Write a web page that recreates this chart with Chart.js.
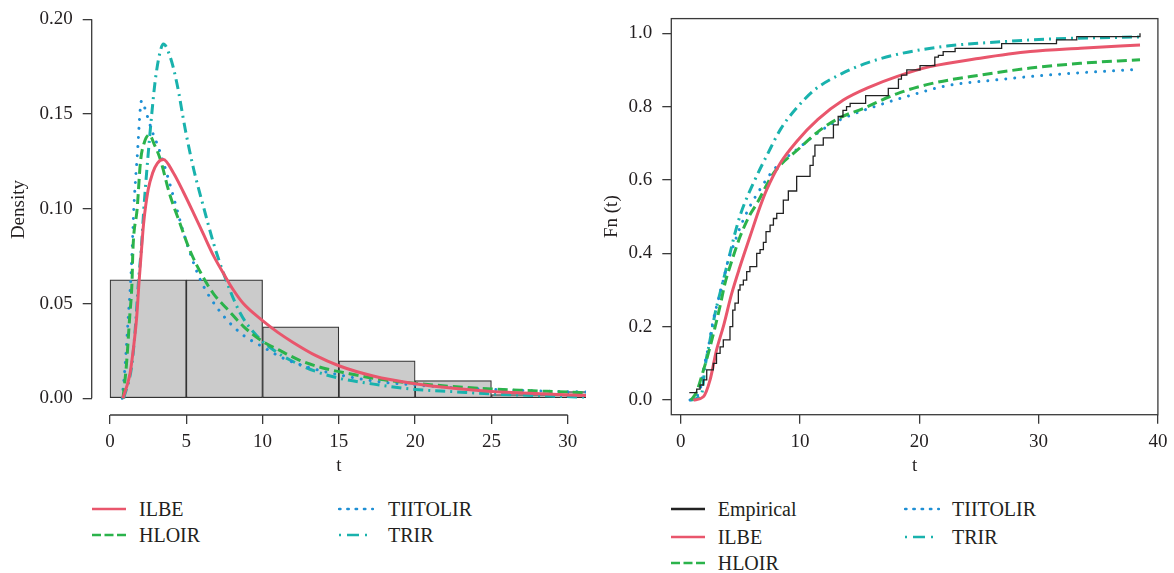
<!DOCTYPE html>
<html>
<head>
<meta charset="utf-8">
<script src="https://cdn.jsdelivr.net/npm/chart.js@4.4.1/dist/chart.umd.min.js"></script>
<style>
body { margin: 0; background: #fff; width: 1174px; height: 573px; overflow: hidden; position: relative;
       font-family: "Liberation Serif"; color: #231f20; }
canvas { position: absolute; top: 0; }
#c1 { left: 0; }
#c2 { left: 600px; }
.lg { position: absolute; font-family: "Liberation Serif"; font-size: 20px; line-height: 24px; height: 24px; white-space: nowrap; }
.lg svg { position: absolute; top: 0; }
</style>
</head>
<body>
<canvas id="c1" width="600" height="482"></canvas>
<canvas id="c2" width="574" height="482"></canvas>
<div id="legends"></div>
<script>
// ---- values ----
var binEdges = [0, 5, 10, 15, 20, 25, 30, 35, 40];
var binDensity = [0.0625, 0.0625, 0.0377, 0.0198, 0.0093, 0.002, 0.0035, 0.002];

// densities (left panel)
var pdfT_ILBE = [0.85, 1.31, 1.53, 1.75, 1.9, 2.06, 2.2, 2.5, 2.8, 3.1, 3.5, 4.15, 4.8, 5.46, 6.1, 6.8, 7.5, 8.1, 8.74, 10, 11, 12, 13.5, 15, 17.25, 20, 22.5, 25, 28.2, 31.2];
var pdfILBE   = [0, 0.013, 0.026, 0.043, 0.061, 0.078, 0.092, 0.110, 0.119, 0.124, 0.126, 0.119, 0.109, 0.098, 0.087, 0.075, 0.065, 0.057, 0.050, 0.041, 0.0348, 0.0295, 0.0225, 0.0172, 0.0118, 0.0077, 0.0053, 0.0036, 0.0024, 0.0015];

var pdfT_HLOIR = [0.85, 1.07, 1.29, 1.44, 1.5, 1.78, 2.0, 2.25, 2.58, 2.9, 3.3, 3.9, 4.6, 5.24, 6.1, 6.8, 7.64, 8.74, 10, 11.1, 12.4, 13.95, 15.7, 17.7, 20, 22.7, 25, 27.7, 31.2];
var pdfHLOIR   = [0, 0.017, 0.043, 0.061, 0.078, 0.100, 0.125, 0.135, 0.139, 0.134, 0.126, 0.108, 0.092, 0.078, 0.064, 0.055, 0.0475, 0.038, 0.030, 0.0254, 0.0202, 0.0160, 0.0130, 0.0100, 0.0079, 0.0061, 0.0049, 0.0040, 0.0029];

var pdfT_TIITOLIR = [0.8, 0.99, 1.2, 1.35, 1.45, 1.56, 1.78, 2.07, 2.4, 2.8, 3.1, 3.52, 4.17, 4.72, 5.15, 5.92, 7.0, 8.53, 10, 11.4, 12.9, 15.07, 17.7, 20, 22.7, 25, 27.7, 31.2];
var pdfTIITOLIR   = [0, 0.017, 0.043, 0.061, 0.078, 0.100, 0.127, 0.157, 0.150, 0.140, 0.134, 0.124, 0.106, 0.090, 0.079, 0.0626, 0.0480, 0.0346, 0.0272, 0.0210, 0.0166, 0.0123, 0.0087, 0.0070, 0.0056, 0.0047, 0.0040, 0.0033];

var pdfT_TRIR = [0.9, 1.42, 1.64, 1.86, 2.06, 2.2, 2.43, 2.76, 2.97, 3.26, 3.5, 3.95, 4.39, 4.93, 5.48, 6.13, 6.78, 7.44, 8.53, 9.62, 10.9, 11.8, 13.55, 15.07, 17.7, 20, 22.5, 25, 28.2, 31.2];
var pdfTRIR   = [0, 0.017, 0.035, 0.061, 0.080, 0.098, 0.122, 0.152, 0.168, 0.182, 0.187, 0.180, 0.166, 0.142, 0.121, 0.101, 0.082, 0.066, 0.045, 0.033, 0.0245, 0.0202, 0.0140, 0.0105, 0.0070, 0.0047, 0.0035, 0.0023, 0.0014, 0.0006];

// empirical cdf jumps (right panel)
var ecdfT = [0.72, 1.34, 1.62, 1.9, 2.18, 2.73, 3.0, 3.3, 3.57, 4.13, 4.36, 4.55, 4.83, 4.97, 5.25, 5.53, 5.8, 6.37, 6.65, 6.93, 7.15, 7.49, 7.77, 8.05, 8.6, 9.02, 9.72, 10.84, 11.1, 11.25, 11.95, 12.8, 13.2, 13.6, 13.9, 14.2, 15.5, 17.4, 18.25, 18.5, 18.95, 20.06, 21.3, 21.6, 22.0, 23.0, 26.9, 31.5, 33.2, 38.5];
var ecdfF = [0.02, 0.03, 0.041, 0.055, 0.082, 0.1, 0.127, 0.145, 0.164, 0.2, 0.245, 0.264, 0.3, 0.314, 0.327, 0.35, 0.364, 0.4, 0.41, 0.43, 0.459, 0.477, 0.495, 0.509, 0.545, 0.57, 0.61, 0.64, 0.665, 0.695, 0.715, 0.75, 0.773, 0.79, 0.8, 0.809, 0.83, 0.85, 0.875, 0.886, 0.9, 0.912, 0.935, 0.94, 0.95, 0.959, 0.972, 0.982, 0.991, 1.0];

// fitted cdfs (right panel)
var cdfT_ILBE = [1.06, 1.9, 2.46, 3.0, 3.57, 4.27, 4.97, 5.8, 6.65, 7.2, 8.33, 9.72, 11.5, 13.63, 15.87, 18.1, 20.9, 25.1, 29.3, 33.5, 38.5];
var cdfILBE   = [0, 0.009, 0.055, 0.136, 0.2, 0.29, 0.364, 0.445, 0.527, 0.573, 0.645, 0.705, 0.765, 0.818, 0.854, 0.882, 0.909, 0.932, 0.95, 0.959, 0.968];

var cdfT_HLOIR = [0.85, 1.3, 1.8, 2.46, 3.29, 3.71, 4.13, 4.97, 5.8, 6.37, 7.77, 10, 11.68, 13.35, 15.3, 18.1, 20.9, 25.1, 29.3, 33.5, 38.5];
var cdfHLOIR   = [0, 0.02, 0.07, 0.145, 0.255, 0.318, 0.364, 0.445, 0.505, 0.535, 0.618, 0.688, 0.736, 0.77, 0.795, 0.835, 0.862, 0.886, 0.905, 0.918, 0.928];

var cdfT_TIITOLIR = [0.78, 1.62, 1.9, 2.32, 2.73, 3.15, 3.57, 3.99, 4.41, 4.97, 5.67, 6.37, 7.77, 10, 12.24, 13.9, 16.7, 19.5, 22.3, 26.5, 30.7, 38.5];
var cdfTIITOLIR   = [0, 0.027, 0.082, 0.145, 0.218, 0.273, 0.327, 0.382, 0.42, 0.47, 0.52, 0.56, 0.627, 0.69, 0.745, 0.772, 0.805, 0.833, 0.857, 0.873, 0.886, 0.902];

var cdfT_TRIR = [0.8, 1.76, 2.04, 2.46, 2.88, 3.29, 3.71, 4.13, 4.55, 5.05, 6.2, 7.3, 8.4, 9.55, 11.2, 13.5, 15.7, 18.5, 22.3, 26.5, 30.7, 38.5];
var cdfTRIR   = [0, 0.018, 0.091, 0.164, 0.236, 0.291, 0.345, 0.4, 0.455, 0.51, 0.599, 0.672, 0.74, 0.79, 0.845, 0.89, 0.92, 0.945, 0.965, 0.976, 0.984, 0.99];

var leftXTicks = [0, 5, 10, 15, 20, 25, 30];
var leftYTicks = [0, 0.05, 0.10, 0.15, 0.20];
var rightXTicks = [0, 10, 20, 30, 40];
var rightYTicks = [0, 0.2, 0.4, 0.6, 0.8, 1.0];

var names = ['ILBE', 'HLOIR', 'TIITOLIR', 'TRIR'];
// ---------------------------------------

var FONT = '"Liberation Serif"';
var INK = '#231f20';
var AX = '#3a3a3a';
Chart.defaults.font.family = FONT;

var style = {
  ILBE:     { color: '#e9566c', dash: [],            cap: 'butt',  lg: '' },
  HLOIR:    { color: '#2bb34b', dash: [10, 5],       cap: 'butt',  lg: '9 3.5' },
  TIITOLIR: { color: '#1e8fd4', dash: [0.01, 9],     cap: 'round', lg: '1.5 6.8' },
  TRIR:     { color: '#19b2ad', dash: [10, 5, 2, 5], cap: 'butt',  lg: '2 6 12 6' }
};

function pts(xs, ys) {
  return xs.map(function (x, i) { return { x: x, y: ys[i] }; });
}

function curve(name, xs, ys, order) {
  var s = style[name];
  return {
    type: 'line', label: name, data: pts(xs, ys),
    borderColor: s.color, borderWidth: 3, borderDash: s.dash, borderCapStyle: s.cap,
    pointRadius: 0, cubicInterpolationMode: 'monotone', fill: false, order: order
  };
}

function scale(min, max, ticks, fmt, title, isX, size, titlePad) {
  return {
    type: 'linear', min: min, max: max, offset: false,
    afterBuildTicks: function (s) { s.ticks = ticks.map(function (v) { return { value: v }; }); },
    afterFit: function (s) {
      if (isX) s.height = size; else s.width = size;
      s.paddingTop = s.paddingBottom = s.paddingLeft = s.paddingRight = 0;
    },
    ticks: { callback: fmt, color: INK, font: { family: FONT, size: 19 }, padding: isX ? 7 : 10, maxRotation: 0, autoSkip: false },
    grid: { display: true, offset: false, drawOnChartArea: false, drawTicks: true, tickLength: 9, color: AX, lineWidth: 1.3 },
    border: { display: false },
    title: { display: true, text: title, color: INK, font: { family: FONT, size: 19 }, padding: titlePad }
  };
}

// R style axes: partial axis lines (left) or a full box (right)
var rAxes = {
  id: 'rAxes',
  afterDraw: function (chart, args, opts) {
    var ctx = chart.ctx, a = chart.chartArea, x = chart.scales.x, y = chart.scales.y;
    ctx.save();
    ctx.strokeStyle = AX;
    ctx.lineWidth = 1.3;
    if (opts.box) {
      ctx.strokeRect(a.left, a.top, a.right - a.left, a.bottom - a.top);
    } else {
      var xt = x.ticks, yt = y.ticks;
      ctx.beginPath();
      ctx.moveTo(x.getPixelForValue(xt[0].value), a.bottom);
      ctx.lineTo(x.getPixelForValue(xt[xt.length - 1].value), a.bottom);
      ctx.moveTo(a.left, y.getPixelForValue(yt[0].value));
      ctx.lineTo(a.left, y.getPixelForValue(yt[yt.length - 1].value));
      ctx.stroke();
    }
    ctx.restore();
  }
};

var histData = binDensity.map(function (v, i) {
  return { x: (binEdges[i] + binEdges[i + 1]) / 2, y: v };
});

function draw() {
  new Chart(document.getElementById('c1'), {
    type: 'bar',
    data: {
      datasets: [
        curve('ILBE', pdfT_ILBE, pdfILBE, 1),
        curve('HLOIR', pdfT_HLOIR, pdfHLOIR, 2),
        curve('TIITOLIR', pdfT_TIITOLIR, pdfTIITOLIR, 3),
        curve('TRIR', pdfT_TRIR, pdfTRIR, 4),
        {
          type: 'bar', label: 'hist', data: histData,
          backgroundColor: '#cbcbcb', borderColor: '#333', borderWidth: 1.2, borderSkipped: false,
          barPercentage: 1, categoryPercentage: 1, grouped: false, order: 10
        }
      ]
    },
    options: {
      responsive: false, animation: false, devicePixelRatio: 1, events: [],
      layout: { padding: { left: 0, top: 4.1, right: 14, bottom: 0 } },
      plugins: { legend: { display: false }, tooltip: { enabled: false }, rAxes: { box: false } },
      scales: {
        x: scale(-1.2, 31.2, leftXTicks, function (v) { return String(v); }, 't', true, 67, { top: 0, bottom: 4.6 }),
        y: scale(-0.0088, 0.208, leftYTicks, function (v) { return v.toFixed(2); }, 'Density', false, 91.7, { top: 8, bottom: 0 })
      }
    },
    plugins: [rAxes]
  });

  new Chart(document.getElementById('c2'), {
    type: 'line',
    data: {
      datasets: [
        {
          label: 'Empirical', data: pts(ecdfT, ecdfF), stepped: true,
          borderColor: '#222', borderWidth: 1.3, pointRadius: 0, fill: false, order: 0
        },
        curve('ILBE', cdfT_ILBE, cdfILBE, 1),
        curve('HLOIR', cdfT_HLOIR, cdfHLOIR, 2),
        curve('TIITOLIR', cdfT_TIITOLIR, cdfTIITOLIR, 3),
        curve('TRIR', cdfT_TRIR, cdfTRIR, 4)
      ]
    },
    options: {
      responsive: false, animation: false, devicePixelRatio: 1, events: [],
      layout: { padding: { left: 0, top: 18.6, right: 16.1, bottom: 0 } },
      plugins: { legend: { display: false }, tooltip: { enabled: false }, rAxes: { box: true } },
      scales: {
        x: scale(-0.79, 40, rightXTicks, function (v) { return String(v); }, 't', true, 67.3, { top: 0, bottom: 4.6 }),
        y: scale(-0.04, 1.04, rightYTicks, function (v) { return v.toFixed(1); }, 'Fn (t)', false, 71.3, { top: 0.6, bottom: 0 })
      }
    },
    plugins: [rAxes]
  });
}

// legends below each panel, laid out in two columns like the original
function legendItem(name, color, dash, width, lineX, textX, cy) {
  var d = document.createElement('div');
  d.className = 'lg';
  d.style.left = lineX + 'px';
  d.style.top = (cy - 12) + 'px';
  var cap = name === 'TIITOLIR' ? 'round' : 'butt';
  d.innerHTML = '<svg width="36" height="24"><line x1="1" y1="12" x2="35" y2="12" stroke="' + color +
    '" stroke-width="' + width + '" stroke-dasharray="' + dash + '" stroke-linecap="' + cap + '"/></svg>' +
    '<span style="position:absolute;left:' + (textX - lineX) + 'px">' + name + '</span>';
  document.getElementById('legends').appendChild(d);
}

var leftRows = [509, 535];
names.forEach(function (n, i) {
  var col = Math.floor(i / 2), row = i % 2;
  legendItem(n, style[n].color, style[n].lg, 2.4, col ? 338 : 91, col ? 388 : 139, leftRows[row]);
});

var rightRows = [509, 536.5, 563];
legendItem('Empirical', '#222', '', 2.4, 670, 717.7, rightRows[0]);
legendItem('ILBE', style.ILBE.color, style.ILBE.lg, 2.4, 670, 717.7, rightRows[1]);
legendItem('HLOIR', style.HLOIR.color, style.HLOIR.lg, 2.4, 670, 717.7, rightRows[2]);
legendItem('TIITOLIR', style.TIITOLIR.color, style.TIITOLIR.lg, 2.4, 904, 952, rightRows[0]);
legendItem('TRIR', style.TRIR.color, style.TRIR.lg, 2.4, 904, 952, rightRows[1]);

if (document.fonts && document.fonts.load) {
  document.fonts.load('19px "Liberation Serif"').then(draw, draw);
} else {
  draw();
}
</script>
</body>
</html>
